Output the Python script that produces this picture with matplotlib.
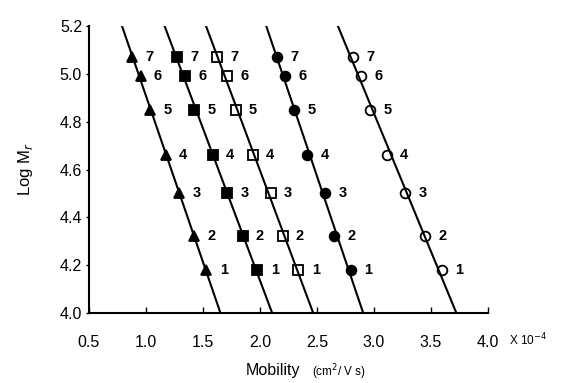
import matplotlib
matplotlib.use("Agg")
import matplotlib.pyplot as plt
import numpy as np

plt.rcParams['font.family'] = ['Liberation Sans', 'DejaVu Sans']

log_mr = [4.18, 4.32, 4.50, 4.66, 4.85, 4.99, 5.07]
point_labels = ['1', '2', '3', '4', '5', '6', '7']

mob_triangle = [1.53, 1.42, 1.29, 1.175, 1.035, 0.953, 0.88]
mob_fsquare = [1.976, 1.848, 1.713, 1.585, 1.421, 1.342, 1.269]
mob_osquare = [2.336, 2.199, 2.094, 1.936, 1.787, 1.708, 1.626]
mob_fcircle = [2.798, 2.652, 2.570, 2.415, 2.298, 2.219, 2.146]
mob_ocircle = [3.594, 3.450, 3.275, 3.111, 2.965, 2.886, 2.819]

x_ticks = [0.5, 1.0, 1.5, 2.0, 2.5, 3.0, 3.5, 4.0]
y_ticks = [4.0, 4.2, 4.4, 4.6, 4.8, 5.0, 5.2]

series = [
    (mob_triangle, '^', 'black'),
    (mob_fsquare, 's', 'black'),
    (mob_osquare, 's', 'none'),
    (mob_fcircle, 'o', 'black'),
    (mob_ocircle, 'o', 'none'),
]

fig = plt.figure(figsize=(5.62, 3.83), dpi=100)
ax = fig.add_axes([89/562, 70/383, 399/562, 287/383])

yy = np.array([4.0, 5.2])
for xs, m, fc in series:
    xs = np.array(xs)
    ys = np.array(log_mr)
    b, a = np.polyfit(ys, xs, 1)
    ax.plot(a + b*yy, yy, color='black', lw=1.5, zorder=2)
    ax.plot(xs, ys, linestyle='none', marker=m, markersize=7,
            markerfacecolor=fc, markeredgecolor='black', markeredgewidth=1.3, zorder=3)
    for x, y, t in zip(xs, ys, point_labels):
        ax.annotate(t, (x, y), xytext=(12.5, 0), textcoords='offset points',
                    ha='center', va='center', fontsize=10.5, fontweight='bold')

ax.set_xlim(0.5, 4.0)
ax.set_ylim(4.0, 5.2)
ax.set_xticks(x_ticks)
ax.set_yticks(y_ticks)
ax.set_xticklabels([f'{v:.1f}' for v in x_ticks], fontsize=11.5)
ax.set_yticklabels([f'{v:.1f}' for v in y_ticks], fontsize=11.5)
ax.tick_params(axis='x', direction='in', length=4, width=1, pad=16)
ax.tick_params(axis='y', direction='out', length=2, width=1, pad=3)
for s in ['top', 'right']:
    ax.spines[s].set_visible(False)
for s in ['left', 'bottom']:
    ax.spines[s].set_linewidth(1.5)

ax.set_ylabel('Log M$_r$', fontsize=12, labelpad=18)
fig.text(528/562, 1 - 340/383, 'X 10$^{-4}$', fontsize=8.5, ha='center', va='center')
fig.text(300/562, 1 - 370/383, 'Mobility', fontsize=11.5, ha='right', va='center')
fig.text(312/562, 1 - 372/383, '(cm$^2$/ V s)', fontsize=8.5, ha='left', va='center')

fig.savefig('out.png', dpi=100)
